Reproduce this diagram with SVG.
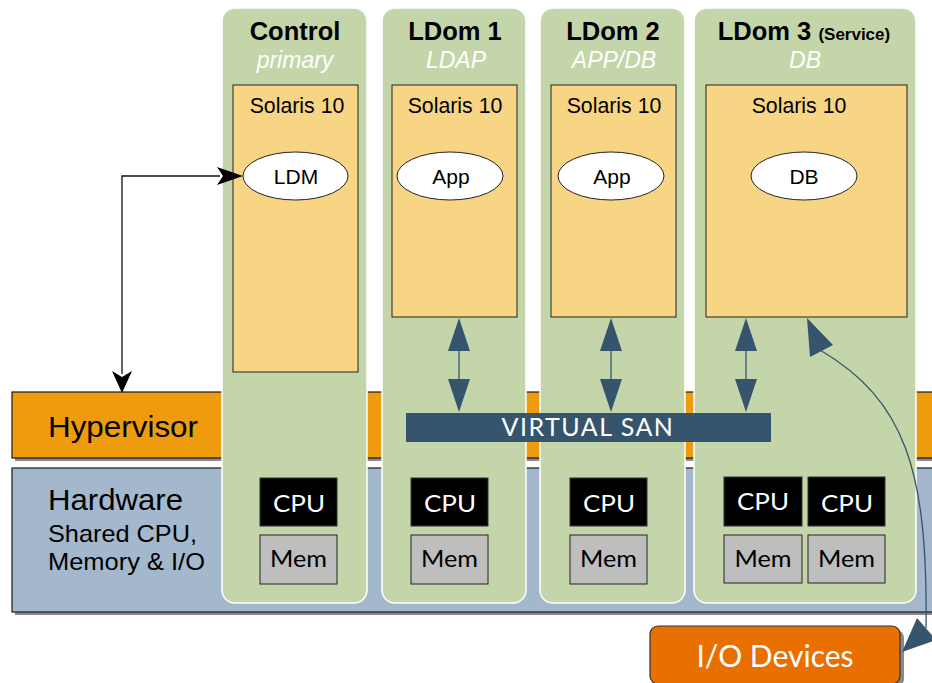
<svg xmlns="http://www.w3.org/2000/svg" width="932" height="683" viewBox="0 0 932 683">
<style>
.shadow{fill:#8a8a8a}
.band{stroke:#1a1a1a;stroke-width:1.2}
.col{fill:#C5D5AA;stroke:#ffffff;stroke-width:1.5}
.sol{fill:#F7D585;stroke:#222;stroke-width:1}
.ell{fill:#fff;stroke:#222;stroke-width:1}
.cpu{fill:#000;stroke:#333;stroke-width:1}
.mem{fill:#BEBEBE;stroke:#222;stroke-width:1}
.t{font-family:"Liberation Sans",Arial,sans-serif;fill:#000}
.h{font-family:"Liberation Sans",Arial,sans-serif;font-weight:bold;font-size:25.5px;text-anchor:middle;fill:#000}
.sub{font-family:"Liberation Sans",Arial,sans-serif;font-style:italic;font-size:23px;text-anchor:middle;fill:#fff}
.sl{font-family:"Liberation Sans",Arial,sans-serif;font-size:21.3px;text-anchor:middle;fill:#000}
.el{font-family:"Liberation Sans",Arial,sans-serif;font-size:21px;text-anchor:middle;fill:#000}
.ct{font-family:Lato,"Open Sans",sans-serif;font-size:24px;text-anchor:middle;fill:#fff}
.mt{font-family:Lato,"Open Sans",sans-serif;font-size:24px;text-anchor:middle;fill:#000}
.dk{fill:#36546C}
.dl{stroke:#36546C;stroke-width:1.3;fill:none}
</style>

<g id="hypervisor">
  <rect class="shadow" x="15" y="395" width="920" height="66"/>
  <rect class="band" x="12" y="392" width="925" height="66" fill="#EE9B0E"/>
  <text class="t" x="48" y="437" font-size="30" textLength="150" lengthAdjust="spacingAndGlyphs">Hypervisor</text>
</g>
<g id="hardware">
  <rect class="shadow" x="15" y="471" width="920" height="144"/>
  <rect class="band" x="12" y="468" width="925" height="144" fill="#A3B8CC"/>
  <text class="t" x="48" y="510" font-size="29" textLength="135" lengthAdjust="spacingAndGlyphs">Hardware</text>
  <text class="t" x="48" y="542" font-size="24" textLength="149" lengthAdjust="spacingAndGlyphs">Shared CPU,</text>
  <text class="t" x="48" y="570" font-size="24" textLength="157" lengthAdjust="spacingAndGlyphs">Memory &amp; I/O</text>
</g>

<g id="control">
  <rect class="col" x="222" y="8" width="145" height="595" rx="13"/>
  <text class="h" x="295" y="40">Control</text>
  <text class="sub" x="295" y="68">primary</text>
  <rect class="sol" x="233" y="85" width="125" height="287"/>
  <text class="sl" x="297" y="113">Solaris 10</text>
  <ellipse class="ell" cx="295.5" cy="176" rx="52.5" ry="24"/>
  <text class="el" x="296" y="184">LDM</text>
  <rect class="cpu" x="260" y="478" width="77" height="48"/>
  <text class="ct" x="299" y="512" textLength="52" lengthAdjust="spacingAndGlyphs">CPU</text>
  <rect class="mem" x="260" y="535" width="77" height="49"/>
  <text class="mt" x="298.5" y="567" textLength="57" lengthAdjust="spacingAndGlyphs">Mem</text>
</g>

<g id="ldom1">
  <rect class="col" x="382" y="8" width="144" height="595" rx="13"/>
  <text class="h" x="455" y="40">LDom 1</text>
  <text class="sub" x="456" y="68">LDAP</text>
  <rect class="sol" x="392" y="85" width="125" height="232"/>
  <text class="sl" x="455" y="113">Solaris 10</text>
  <ellipse class="ell" cx="450" cy="176" rx="53" ry="24"/>
  <text class="el" x="451" y="184">App</text>
  <rect class="cpu" x="411" y="478" width="77" height="48"/>
  <text class="ct" x="450" y="512" textLength="52" lengthAdjust="spacingAndGlyphs">CPU</text>
  <rect class="mem" x="411" y="535" width="77" height="49"/>
  <text class="mt" x="449.5" y="567" textLength="57" lengthAdjust="spacingAndGlyphs">Mem</text>
</g>

<g id="ldom2">
  <rect class="col" x="540" y="8" width="145" height="595" rx="13"/>
  <text class="h" x="613" y="40">LDom 2</text>
  <text class="sub" x="614" y="68">APP/DB</text>
  <rect class="sol" x="551" y="85" width="125" height="232"/>
  <text class="sl" x="614" y="113">Solaris 10</text>
  <ellipse class="ell" cx="611" cy="176" rx="53" ry="24"/>
  <text class="el" x="612" y="184">App</text>
  <rect class="cpu" x="570" y="478" width="77" height="48"/>
  <text class="ct" x="609" y="512" textLength="52" lengthAdjust="spacingAndGlyphs">CPU</text>
  <rect class="mem" x="570" y="535" width="77" height="49"/>
  <text class="mt" x="608.5" y="567" textLength="57" lengthAdjust="spacingAndGlyphs">Mem</text>
</g>

<g id="ldom3">
  <rect class="col" x="694" y="8" width="222" height="595" rx="13"/>
  <text class="h" x="804" y="40">LDom 3 <tspan font-size="17">(Service)</tspan></text>
  <text class="sub" x="805" y="68">DB</text>
  <rect class="sol" x="706" y="85" width="201" height="232"/>
  <text class="sl" x="799" y="113">Solaris 10</text>
  <ellipse class="ell" cx="804" cy="176" rx="53" ry="24"/>
  <text class="el" x="804" y="184">DB</text>
  <rect class="cpu" x="724" y="477" width="78" height="49"/>
  <text class="ct" x="763" y="510" textLength="52" lengthAdjust="spacingAndGlyphs">CPU</text>
  <rect class="cpu" x="808" y="477" width="77" height="49"/>
  <text class="ct" x="847" y="512" textLength="52" lengthAdjust="spacingAndGlyphs">CPU</text>
  <rect class="mem" x="724" y="535" width="78" height="48"/>
  <text class="mt" x="763" y="567" textLength="57" lengthAdjust="spacingAndGlyphs">Mem</text>
  <rect class="mem" x="808" y="535" width="77" height="48"/>
  <text class="mt" x="846.5" y="567" textLength="57" lengthAdjust="spacingAndGlyphs">Mem</text>
</g>

<g id="virtual-san">
  <rect class="dk" x="406" y="413" width="365" height="29"/>
  <text x="588" y="436" font-family="Lato,'Open Sans',sans-serif" font-size="25" fill="#fff" text-anchor="middle" letter-spacing="1.5">VIRTUAL SAN</text>
</g>

<g id="io-devices">
  <rect class="shadow" x="654" y="630" width="250" height="57" rx="8"/>
  <rect x="650" y="626" width="250" height="58" rx="8" fill="#E86F00" stroke="#333" stroke-width="1.2"/>
  <text x="775" y="667" font-family="Lato,'Open Sans',sans-serif" font-size="30" fill="#fff" text-anchor="middle">I/O Devices</text>
</g>

<g id="connectors">
  <path d="M220 176 H122 V374" fill="none" stroke="#111" stroke-width="1.3"/>
  <path d="M243 176 L217 167 L223 176 L217 185 Z" fill="#000"/>
  <path d="M122 393 L112 371 L122 377 L132 371 Z" fill="#000"/>
  <line class="dl" x1="459" y1="345" x2="459" y2="385"/>
  <polygon class="dk" points="459,318 448,351 470,351"/>
  <polygon class="dk" points="459,412 448,379 470,379"/>
  <line class="dl" x1="611" y1="345" x2="611" y2="385"/>
  <polygon class="dk" points="611,318 600,351 622,351"/>
  <polygon class="dk" points="611,412 600,379 622,379"/>
  <line class="dl" x1="746" y1="345" x2="746" y2="385"/>
  <polygon class="dk" points="746,318 735,351 757,351"/>
  <polygon class="dk" points="746,412 735,379 757,379"/>
  <path class="dl" d="M820 350 C 905 400, 928 470, 926 628"/>
  <polygon class="dk" points="807,318 810,357 833,345"/>
  <polygon class="dk" points="902,652 917,618 936,640"/>
</g>
</svg>
